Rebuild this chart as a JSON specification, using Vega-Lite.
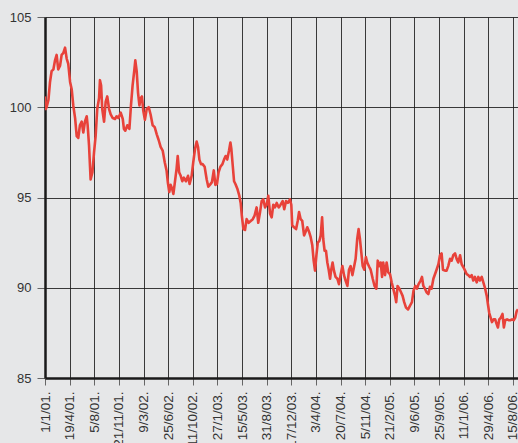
{
  "$schema": "https://vega.github.io/schema/vega-lite/v6.json",
  "autosize": "none",
  "width": 473,
  "height": 361,
  "padding": {"left": 45, "top": 17, "right": 0, "bottom": 65},
  "background": "#e6e7e8",
  "config": {
    "view": {"fill": "#e6e7e8", "stroke": null},
    "font": "Liberation Sans"
  },
  "data": {
    "values": [
      {"d": 0, "v": 100.6}, {"d": 3, "v": 99.9}, {"d": 7, "v": 100.0}, {"d": 15, "v": 100.4}, {"d": 22, "v": 101.4},
      {"d": 29, "v": 102.0}, {"d": 37, "v": 102.1}, {"d": 44, "v": 102.6}, {"d": 51, "v": 102.9}, {"d": 58, "v": 102.1},
      {"d": 66, "v": 102.3}, {"d": 73, "v": 102.9}, {"d": 80, "v": 103.0}, {"d": 88, "v": 103.3}, {"d": 95, "v": 102.7},
      {"d": 102, "v": 102.4}, {"d": 110, "v": 101.4}, {"d": 117, "v": 101.0}, {"d": 124, "v": 100.1}, {"d": 132, "v": 99.4},
      {"d": 139, "v": 98.4}, {"d": 146, "v": 98.3}, {"d": 153, "v": 99.0}, {"d": 161, "v": 99.2}, {"d": 168, "v": 98.6},
      {"d": 175, "v": 99.2}, {"d": 183, "v": 99.5}, {"d": 187, "v": 99.0}, {"d": 193, "v": 97.9}, {"d": 200, "v": 96.0},
      {"d": 208, "v": 96.4}, {"d": 215, "v": 97.5}, {"d": 222, "v": 98.4}, {"d": 229, "v": 99.9}, {"d": 237, "v": 100.5},
      {"d": 241, "v": 101.5}, {"d": 246, "v": 101.2}, {"d": 251, "v": 99.9}, {"d": 259, "v": 99.2}, {"d": 266, "v": 100.3},
      {"d": 273, "v": 100.6}, {"d": 281, "v": 99.9}, {"d": 288, "v": 99.6}, {"d": 297, "v": 99.4}, {"d": 307, "v": 99.35},
      {"d": 314, "v": 99.5}, {"d": 322, "v": 99.4}, {"d": 332, "v": 99.7}, {"d": 341, "v": 99.35}, {"d": 346, "v": 98.8},
      {"d": 352, "v": 98.7}, {"d": 361, "v": 99.0}, {"d": 370, "v": 98.8}, {"d": 377, "v": 100.1}, {"d": 384, "v": 101.2},
      {"d": 392, "v": 102.1}, {"d": 396, "v": 102.6}, {"d": 402, "v": 102.0}, {"d": 408, "v": 100.8}, {"d": 414, "v": 100.1},
      {"d": 419, "v": 100.5}, {"d": 425, "v": 100.6}, {"d": 431, "v": 99.8}, {"d": 438, "v": 99.3}, {"d": 446, "v": 99.9},
      {"d": 455, "v": 100.0}, {"d": 463, "v": 99.6}, {"d": 472, "v": 99.0}, {"d": 481, "v": 98.9}, {"d": 490, "v": 98.5},
      {"d": 498, "v": 98.2}, {"d": 507, "v": 97.8}, {"d": 516, "v": 97.6}, {"d": 525, "v": 96.95}, {"d": 533, "v": 96.5},
      {"d": 539, "v": 95.8}, {"d": 545, "v": 95.3}, {"d": 551, "v": 95.7}, {"d": 557, "v": 95.5}, {"d": 563, "v": 95.2},
      {"d": 569, "v": 95.8}, {"d": 577, "v": 96.6}, {"d": 582, "v": 97.3}, {"d": 588, "v": 96.4}, {"d": 595, "v": 96.2},
      {"d": 602, "v": 95.9}, {"d": 609, "v": 96.1}, {"d": 618, "v": 95.9}, {"d": 627, "v": 96.2}, {"d": 634, "v": 95.75},
      {"d": 643, "v": 96.2}, {"d": 650, "v": 96.95}, {"d": 658, "v": 97.7}, {"d": 665, "v": 98.1}, {"d": 671, "v": 97.8},
      {"d": 677, "v": 97.1}, {"d": 684, "v": 96.85}, {"d": 691, "v": 96.85}, {"d": 700, "v": 96.7}, {"d": 709, "v": 96.0},
      {"d": 716, "v": 95.6}, {"d": 723, "v": 95.7}, {"d": 732, "v": 95.85}, {"d": 740, "v": 96.5}, {"d": 747, "v": 95.7},
      {"d": 754, "v": 95.75}, {"d": 761, "v": 96.4}, {"d": 769, "v": 96.7}, {"d": 778, "v": 96.85}, {"d": 785, "v": 97.1},
      {"d": 792, "v": 97.3}, {"d": 799, "v": 97.1}, {"d": 807, "v": 97.6}, {"d": 813, "v": 98.05}, {"d": 817, "v": 97.7},
      {"d": 823, "v": 96.8}, {"d": 829, "v": 95.9}, {"d": 835, "v": 95.75}, {"d": 843, "v": 95.5}, {"d": 852, "v": 95.1},
      {"d": 858, "v": 94.7}, {"d": 863, "v": 94.0}, {"d": 870, "v": 93.25}, {"d": 877, "v": 93.2}, {"d": 884, "v": 93.8},
      {"d": 893, "v": 93.6}, {"d": 902, "v": 93.7}, {"d": 911, "v": 93.8}, {"d": 919, "v": 94.0}, {"d": 928, "v": 94.45},
      {"d": 935, "v": 93.6}, {"d": 943, "v": 94.2}, {"d": 950, "v": 94.8}, {"d": 957, "v": 94.9}, {"d": 965, "v": 94.45},
      {"d": 972, "v": 94.6}, {"d": 979, "v": 95.1}, {"d": 987, "v": 94.1}, {"d": 994, "v": 93.9}, {"d": 1001, "v": 94.6},
      {"d": 1008, "v": 94.45}, {"d": 1016, "v": 94.7}, {"d": 1025, "v": 94.45}, {"d": 1033, "v": 94.6}, {"d": 1042, "v": 94.8},
      {"d": 1049, "v": 94.35}, {"d": 1057, "v": 94.8}, {"d": 1065, "v": 94.7}, {"d": 1074, "v": 94.9}, {"d": 1080, "v": 94.6},
      {"d": 1084, "v": 93.45}, {"d": 1092, "v": 93.35}, {"d": 1101, "v": 93.25}, {"d": 1108, "v": 93.7}, {"d": 1114, "v": 94.2},
      {"d": 1121, "v": 93.8}, {"d": 1128, "v": 93.7}, {"d": 1136, "v": 92.9}, {"d": 1143, "v": 93.1}, {"d": 1150, "v": 93.35},
      {"d": 1158, "v": 93.1}, {"d": 1165, "v": 92.8}, {"d": 1172, "v": 92.35}, {"d": 1178, "v": 91.5}, {"d": 1184, "v": 90.95},
      {"d": 1190, "v": 91.8}, {"d": 1196, "v": 92.5}, {"d": 1203, "v": 92.6}, {"d": 1209, "v": 92.9}, {"d": 1215, "v": 93.9},
      {"d": 1220, "v": 92.7}, {"d": 1226, "v": 92.05}, {"d": 1232, "v": 92.05}, {"d": 1238, "v": 91.4}, {"d": 1244, "v": 91.0},
      {"d": 1250, "v": 90.5}, {"d": 1255, "v": 91.0}, {"d": 1261, "v": 91.4}, {"d": 1267, "v": 90.95}, {"d": 1274, "v": 90.6},
      {"d": 1282, "v": 90.5}, {"d": 1289, "v": 90.2}, {"d": 1296, "v": 90.7}, {"d": 1304, "v": 91.2}, {"d": 1311, "v": 90.7},
      {"d": 1318, "v": 90.4}, {"d": 1326, "v": 90.1}, {"d": 1333, "v": 91.0}, {"d": 1340, "v": 91.2}, {"d": 1348, "v": 90.7},
      {"d": 1355, "v": 91.15}, {"d": 1362, "v": 91.6}, {"d": 1369, "v": 92.7}, {"d": 1375, "v": 93.25}, {"d": 1381, "v": 92.7},
      {"d": 1387, "v": 91.95}, {"d": 1393, "v": 91.2}, {"d": 1400, "v": 91.0}, {"d": 1407, "v": 91.7}, {"d": 1413, "v": 91.4},
      {"d": 1422, "v": 91.15}, {"d": 1428, "v": 91.0}, {"d": 1437, "v": 90.5}, {"d": 1445, "v": 90.1}, {"d": 1453, "v": 89.95},
      {"d": 1459, "v": 91.5}, {"d": 1466, "v": 91.2}, {"d": 1472, "v": 91.4}, {"d": 1478, "v": 90.6}, {"d": 1483, "v": 91.4},
      {"d": 1491, "v": 90.7}, {"d": 1498, "v": 91.4}, {"d": 1505, "v": 90.85}, {"d": 1513, "v": 90.75}, {"d": 1520, "v": 90.3},
      {"d": 1527, "v": 89.95}, {"d": 1535, "v": 89.55}, {"d": 1540, "v": 89.2}, {"d": 1546, "v": 90.1}, {"d": 1554, "v": 89.95},
      {"d": 1561, "v": 89.75}, {"d": 1568, "v": 89.55}, {"d": 1575, "v": 89.2}, {"d": 1583, "v": 88.9}, {"d": 1592, "v": 88.8},
      {"d": 1600, "v": 89.0}, {"d": 1609, "v": 89.2}, {"d": 1616, "v": 89.85}, {"d": 1624, "v": 90.1}, {"d": 1631, "v": 89.95},
      {"d": 1638, "v": 90.2}, {"d": 1647, "v": 90.4}, {"d": 1653, "v": 90.6}, {"d": 1659, "v": 90.1}, {"d": 1666, "v": 89.95},
      {"d": 1673, "v": 89.75}, {"d": 1681, "v": 89.65}, {"d": 1688, "v": 90.05}, {"d": 1695, "v": 89.95}, {"d": 1703, "v": 90.5},
      {"d": 1710, "v": 90.75}, {"d": 1717, "v": 91.0}, {"d": 1725, "v": 91.3}, {"d": 1732, "v": 91.8}, {"d": 1739, "v": 91.9},
      {"d": 1745, "v": 91.0}, {"d": 1754, "v": 90.95}, {"d": 1761, "v": 90.95}, {"d": 1768, "v": 91.2}, {"d": 1776, "v": 91.6},
      {"d": 1783, "v": 91.5}, {"d": 1790, "v": 91.8}, {"d": 1798, "v": 91.9}, {"d": 1805, "v": 91.6}, {"d": 1812, "v": 91.4},
      {"d": 1820, "v": 91.8}, {"d": 1827, "v": 91.3}, {"d": 1834, "v": 91.15}, {"d": 1842, "v": 90.95}, {"d": 1849, "v": 90.75},
      {"d": 1856, "v": 90.7}, {"d": 1863, "v": 90.6}, {"d": 1871, "v": 90.7}, {"d": 1878, "v": 90.4}, {"d": 1885, "v": 90.6},
      {"d": 1893, "v": 90.3}, {"d": 1900, "v": 90.6}, {"d": 1907, "v": 90.4}, {"d": 1915, "v": 90.6}, {"d": 1922, "v": 90.3},
      {"d": 1929, "v": 90.0}, {"d": 1937, "v": 89.55}, {"d": 1942, "v": 89.1}, {"d": 1948, "v": 88.6}, {"d": 1954, "v": 88.35},
      {"d": 1960, "v": 88.1}, {"d": 1967, "v": 88.25}, {"d": 1974, "v": 88.25}, {"d": 1980, "v": 88.0}, {"d": 1986, "v": 87.8},
      {"d": 1992, "v": 88.25}, {"d": 1999, "v": 88.35}, {"d": 2006, "v": 88.55}, {"d": 2012, "v": 87.8}, {"d": 2018, "v": 88.2},
      {"d": 2026, "v": 88.25}, {"d": 2033, "v": 88.2}, {"d": 2040, "v": 88.2}, {"d": 2048, "v": 88.25}, {"d": 2055, "v": 88.2},
      {"d": 2062, "v": 88.35}, {"d": 2068, "v": 88.7}, {"d": 2074, "v": 88.8}
    ]
  },
  "mark": {"type": "line", "color": "#e8423a", "strokeWidth": 2.6, "strokeJoin": "round", "clip": true},
  "encoding": {
    "x": {
      "field": "d",
      "type": "quantitative",
      "scale": {"domain": [0, 2074], "nice": false, "zero": false},
      "axis": {
        "title": null,
        "values": [0, 108, 216, 324, 432, 540, 648, 756, 864, 972, 1080, 1188, 1296, 1404, 1512, 1620, 1728, 1836, 1944, 2052],
        "labelExpr": "timeFormat(datetime(2001, 0, 1 + datum.value), '%-d/%-m/%y.')",
        "labelAngle": -90,
        "labelAlign": "right",
        "labelBaseline": "middle",
        "labelFontSize": 13.5,
        "labelColor": "#333333",
        "labelPadding": 6,
        "labelOverlap": false,
        "labelBound": false,
        "labelFlush": false,
        "tickSize": 7,
        "tickColor": "#666666",
        "domainColor": "#1a1a1a",
        "domainWidth": 2.5,
        "grid": true,
        "gridColor": "#1a1a1a",
        "gridWidth": 1,
        "gridOpacity": 0.85
      }
    },
    "y": {
      "field": "v",
      "type": "quantitative",
      "scale": {"domain": [85, 105], "nice": false, "zero": false},
      "axis": {
        "title": null,
        "values": [85, 90, 95, 100, 105],
        "labelFontSize": 13,
        "labelColor": "#333333",
        "labelPadding": 6,
        "tickSize": 8,
        "tickColor": "#666666",
        "domainColor": "#1a1a1a",
        "domainWidth": 2.5,
        "grid": true,
        "gridColor": "#1a1a1a",
        "gridWidth": 1,
        "gridOpacity": 0.85
      }
    }
  }
}
